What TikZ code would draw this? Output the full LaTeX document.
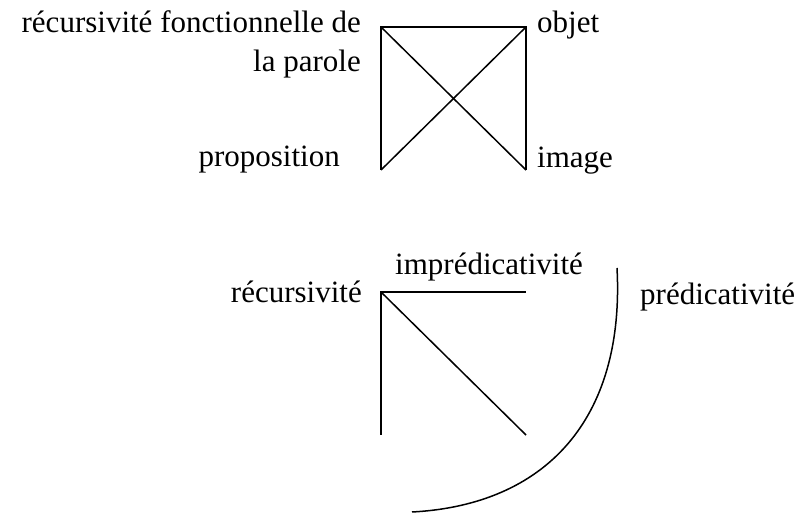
\documentclass[tikz,border=0pt]{standalone}
\usepackage{fontspec}
\setmainfont{Liberation Serif}

\begin{document}
\begin{tikzpicture}[
    x=1pt, y=1pt,
    edge/.style={line width=1.5pt, black},
    lbl/.style={font=\fontsize{31}{39}\selectfont, inner sep=0pt, text=black},
]
\useasboundingbox (0,0) rectangle (805,513);

% Upper square with its two diagonals
\coordinate (tl) at (381, 486);
\coordinate (tr) at (526, 486);
\coordinate (bl) at (381, 343);
\coordinate (br) at (526, 343);

\draw[edge] (bl) -- (tl) -- (tr) -- (br);
\draw[edge] (tl) -- (br);
\draw[edge] (bl) -- (tr);

\node[lbl, anchor=base east, align=right] (rfp) at (361, 441)
    {récursivité fonctionnelle de\\la parole};
\node[lbl, anchor=base west] (obj) at (537, 480) {objet};
\node[lbl, anchor=base east] (prop) at (340, 346) {proposition};
\node[lbl, anchor=base west] (img) at (537, 345) {image};

% Lower figure
\coordinate (c) at (381, 221);
\coordinate (h) at (526, 221);
\coordinate (v) at (381, 78);
\coordinate (d) at (526, 78);

\draw[edge] (v) -- (c) -- (h);
\draw[edge] (c) -- (d);

\node[lbl, anchor=base west] (impred) at (395, 238) {imprédicativité};
\node[lbl, anchor=base east] (rec) at (362, 210) {récursivité};
\node[lbl, anchor=base west] (pred) at (640, 208) {prédicativité};

% Arc
\coordinate (a1) at (617, 245);
\coordinate (a2) at (412, 1);
\draw[edge] (a1) .. controls (625, 93) and (545, 8) .. (a2);

\end{tikzpicture}
\end{document}
